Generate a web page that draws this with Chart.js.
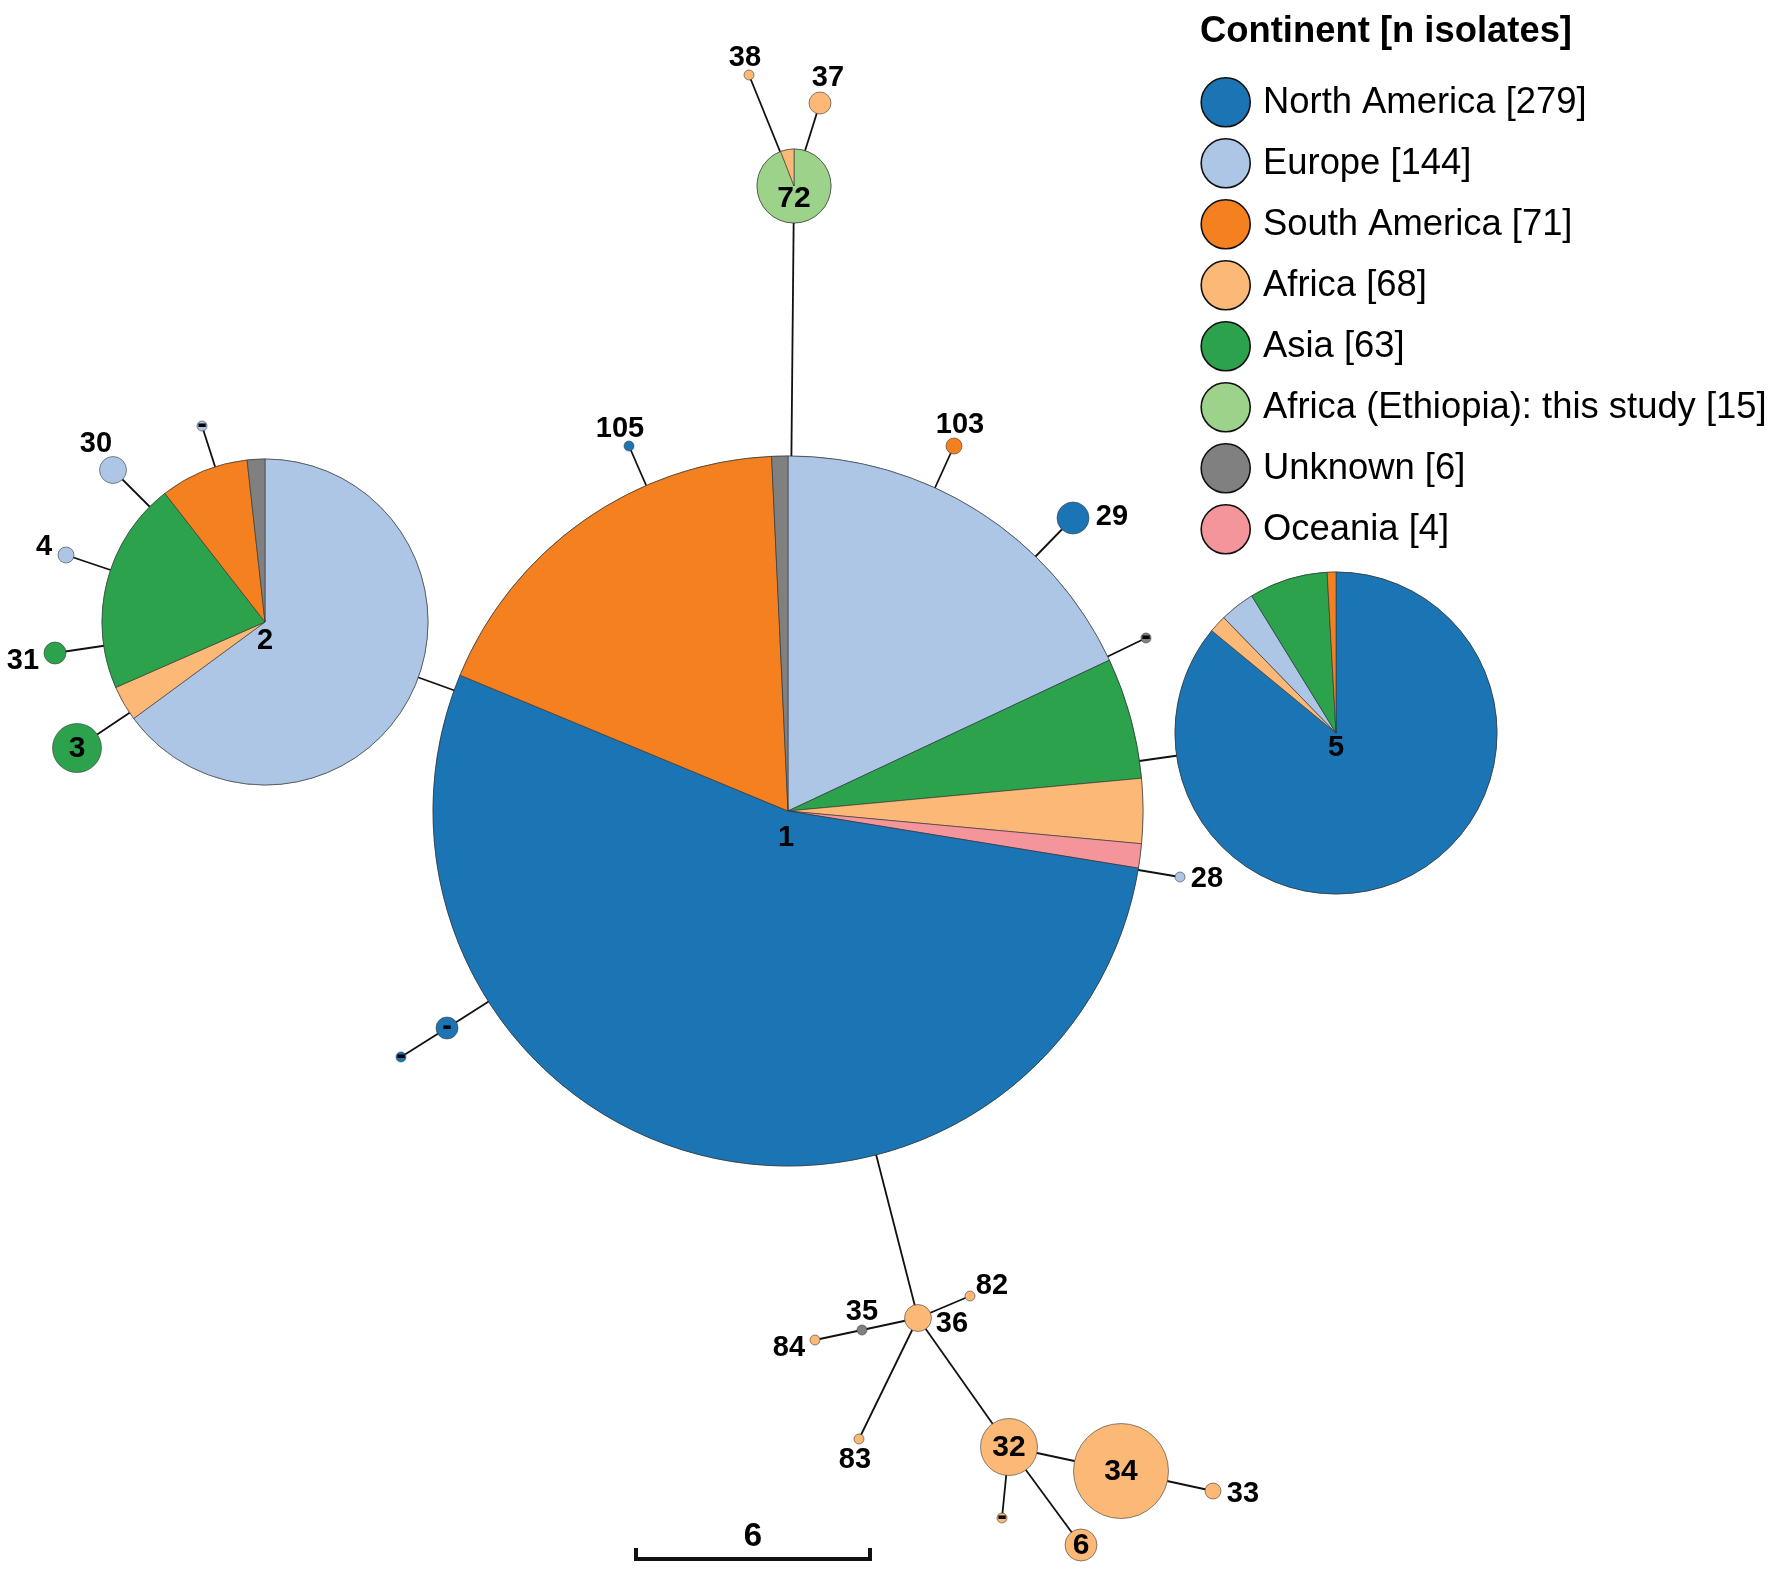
<!DOCTYPE html>
<html lang="en">
<head>
  <meta charset="UTF-8" />
  <title>Haplotype network</title>
  <script src="https://cdn.jsdelivr.net/npm/chart.js"></script>
  <style>
    html, body { margin: 0; padding: 0; background: #fff; }
    #wrap { width: 1772px; height: 1569px; position: relative; }
  </style>
</head>
<body>
  <div id="wrap"><canvas id="network"></canvas></div>

  <script>
    // legend
    const continents = ['North America', 'Europe', 'South America', 'Africa', 'Asia', 'Africa (Ethiopia): this study', 'Unknown', 'Oceania'];
    const isolates = [279, 144, 71, 68, 63, 15, 6, 4];
    const colors = ['#1b75b4', '#adc6e6', '#f58020', '#fcb876', '#2ba24b', '#9dd28b', '#808080', '#f4959b'];

    // nodes, positions
    const nodeNames = ['1', '2', '5', '72', '38', '37', '105', '103', '29', 'a', '28', '30', 'b', '4', '31', '3', 'c', 'd', '36', '82', '35', '84', '83', '32', '34', '33', 'e', '6'];
    const nodeX = [788, 265, 1336, 794, 749, 820, 629, 954, 1073, 1146, 1180, 113, 202, 66, 55, 77, 447, 401, 918, 970, 862, 815, 859, 1009, 1121, 1213, 1002, 1081];
    const nodeY = [811, 622, 733, 186, 75, 103, 446, 446, 518, 638, 877, 470, 426, 555, 653, 748, 1028, 1057, 1318, 1296, 1330, 1340, 1439, 1447, 1471, 1491, 1518, 1545];
    const nodeR = [355, 163, 161, 37, 5, 11, 5, 8, 16, 5, 5, 13.5, 5, 8, 11, 24.5, 11, 5, 13.5, 5, 5, 5, 5, 28.5, 47.5, 8, 5, 16];
    // index into continents for single coloured nodes
    const nodeColor = [0, 1, 0, 5, 3, 3, 0, 2, 0, 6, 1, 1, 1, 1, 4, 4, 0, 0, 3, 3, 6, 3, 3, 3, 3, 3, 3, 3];

    // slices clockwise from 12 o'clock: [continent index, isolates]
    const slices1 = [[1, 49], [4, 15], [3, 8], [7, 3], [0, 146], [2, 49], [6, 2]];
    const slices2 = [[1, 37], [3, 2], [4, 12], [2, 5], [6, 1]];
    const slices5 = [[0, 98], [3, 2], [1, 4], [4, 9], [2, 1]];
    const slices72 = [[5, 16], [3, 1]];

    const edges = [
      ['1', '72'], ['72', '38'], ['72', '37'], ['1', '105'], ['1', '103'], ['1', '29'], ['1', 'a'], ['1', '5'], ['1', '28'],
      ['1', '2'], ['2', '3'], ['2', '31'], ['2', '4'], ['2', '30'], ['2', 'b'], ['1', 'c'], ['c', 'd'], ['1', '36'],
      ['36', '82'], ['36', '35'], ['35', '84'], ['36', '83'], ['36', '32'], ['32', '34'], ['32', 'e'], ['32', '6'], ['34', '33']
    ];

    // text labels of the nodes
    const labelText = ['1', '2', '5', '72', '38', '37', '105', '103', '29', '28', '30', '4', '31', '3', '82', '35', '36', '84', '83', '32', '34', '33', '6', '-', '-', '-', '-', '-', '-'];
    const labelX = [786, 265, 1336, 794, 745, 828, 620, 960, 1112, 1207, 96, 44, 23, 77, 992, 862, 952, 789, 855, 1009, 1121, 1243, 1081, 1146, 202, 447, 401, 1002];
    const labelY = [838, 641, 748, 199, 58, 78, 429, 425, 517, 879, 444, 547, 661, 749, 1286, 1312, 1324, 1348, 1460, 1448, 1472, 1494, 1546, 637, 425, 1027, 1056, 1517];
    const bigLabels = ['72', '3', '32', '34', '6'];

    const scaleBarLabel = '6';
    const scaleBarX = [636, 870];
    const scaleBarY = 1559;

    const pieSlices = { '1': slices1, '2': slices2, '5': slices5, '72': slices72 };
    const pos = name => nodeNames.indexOf(name);

    const edgeSets = edges.map(e => ({
      type: 'scatter',
      showLine: true,
      order: 5,
      data: e.map(n => ({ x: nodeX[pos(n)], y: nodeY[pos(n)] })),
      borderColor: '#111',
      borderWidth: 1.8,
      pointRadius: 0
    }));

    const nodeSet = {
      type: 'bubble',
      order: 1,
      clip: false,
      data: nodeNames.map((n, i) => ({ x: nodeX[i], y: nodeY[i], r: nodeR[i] })),
      backgroundColor: nodeColor.map(c => colors[c]),
      borderColor: 'rgba(60,60,60,0.75)',
      borderWidth: 0.8
    };

    // pie slices, labels, legend and the scale bar
    const networkPlugin = {
      id: 'network',
      afterDatasetsDraw(chart) {
        const ctx = chart.ctx;
        const xs = chart.scales.x;
        const ys = chart.scales.y;

        nodeNames.forEach((name, i) => {
          const parts = pieSlices[name];
          if (!parts) return;
          const total = parts.reduce((s, p) => s + p[1], 0);
          let angle = -Math.PI / 2;
          const px = xs.getPixelForValue(nodeX[i]);
          const py = ys.getPixelForValue(nodeY[i]);
          parts.forEach(p => {
            const next = angle + p[1] / total * Math.PI * 2;
            ctx.beginPath();
            ctx.moveTo(px, py);
            ctx.arc(px, py, nodeR[i], angle, next);
            ctx.closePath();
            ctx.fillStyle = colors[p[0]];
            ctx.fill();
            ctx.lineWidth = 0.8;
            ctx.strokeStyle = 'rgba(50,50,50,0.75)';
            ctx.stroke();
            angle = next;
          });
        });

        ctx.fillStyle = '#000';
        ctx.textAlign = 'center';
        ctx.textBaseline = 'middle';
        labelText.forEach((t, i) => {
          const size = bigLabels.includes(t) ? 30 : 29;
          ctx.font = 'bold ' + size + 'px "Liberation Sans", Arial, sans-serif';
          ctx.fillText(t, xs.getPixelForValue(labelX[i]), ys.getPixelForValue(labelY[i]));
        });

        // scale bar
        const x0 = xs.getPixelForValue(scaleBarX[0]);
        const x1 = xs.getPixelForValue(scaleBarX[1]);
        const y0 = ys.getPixelForValue(scaleBarY);
        ctx.beginPath();
        ctx.moveTo(x0, y0 - 11);
        ctx.lineTo(x0, y0);
        ctx.lineTo(x1, y0);
        ctx.lineTo(x1, y0 - 11);
        ctx.strokeStyle = '#111';
        ctx.lineWidth = 4;
        ctx.stroke();
        ctx.font = 'bold 33px "Liberation Sans", Arial, sans-serif';
        ctx.fillText(scaleBarLabel, 753, 1537);

        // legend
        ctx.textAlign = 'left';
        ctx.font = 'bold 36.4px "Liberation Sans", Arial, sans-serif';
        ctx.fillText('Continent [n isolates]', 1200, 32);
        ctx.font = '36.4px "Liberation Sans", Arial, sans-serif';
        continents.forEach((name, i) => {
          const y = 102.3 + i * 61;
          ctx.beginPath();
          ctx.arc(1225.7, y, 24.5, 0, Math.PI * 2);
          ctx.fillStyle = colors[i];
          ctx.fill();
          ctx.lineWidth = 1.6;
          ctx.strokeStyle = '#111';
          ctx.stroke();
          ctx.fillStyle = '#000';
          ctx.fillText(name + ' [' + isolates[i] + ']', 1263, y + 1);
        });
      }
    };

    new Chart(document.getElementById('network'), {
      data: { datasets: [nodeSet].concat(edgeSets) },
      options: {
        responsive: true,
        maintainAspectRatio: false,
        animation: false,
        layout: { padding: 0, autoPadding: false },
        plugins: { legend: { display: false }, tooltip: { enabled: false } },
        scales: {
          x: { type: 'linear', min: 0, max: 1772, display: false },
          y: { type: 'linear', min: 0, max: 1569, reverse: true, display: false }
        }
      },
      plugins: [networkPlugin]
    });
  </script>
</body>
</html>
